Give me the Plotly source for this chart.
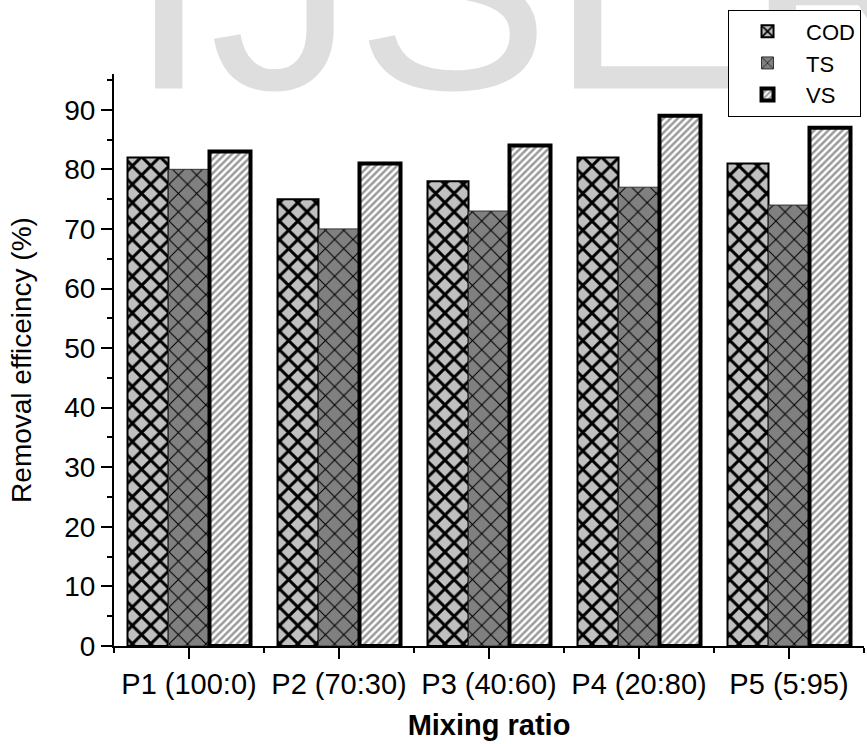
import plotly.graph_objects as go

categories = ["P1 (100:0)", "P2 (70:30)", "P3 (40:60)", "P4 (20:80)", "P5 (5:95)"]
cod = [82, 75, 78, 82, 81]
ts = [80, 70, 73, 77, 74]
vs = [83, 81, 84, 89, 87]
series_names = ["COD", "TS", "VS"]
y_tick_vals = [0, 10, 20, 30, 40, 50, 60, 70, 80, 90]
watermark = "IJSER"

xpos = list(range(len(categories)))
FONT = "Liberation Sans, Arial, sans-serif"

fig = go.Figure()

# background watermark, drawn in the plot layer (under the legend), text sits above its anchor
fig.add_trace(go.Scatter(
    x=[2.353], y=[81.3], mode="text", text=[watermark],
    textposition="top center", cliponaxis=False,
    textfont=dict(family=FONT, size=292, color="#dedede"),
    hoverinfo="skip", showlegend=False,
))

fig.add_trace(go.Bar(
    name=series_names[0], x=xpos, y=cod,
    marker=dict(color="#c0c0c0",
                line=dict(color="black", width=2),
                pattern=dict(shape="x", bgcolor="#c0c0c0", fgcolor="black",
                             size=13, solidity=0.4, fillmode="replace")),
))
fig.add_trace(go.Bar(
    name=series_names[1], x=xpos, y=ts,
    marker=dict(color="#808080",
                line=dict(color="#333333", width=1),
                pattern=dict(shape="x", bgcolor="#808080", fgcolor="black",
                             size=13, solidity=0.15, fillmode="replace")),
))
fig.add_trace(go.Bar(
    name=series_names[2], x=xpos, y=vs,
    marker=dict(color="white",
                line=dict(color="black", width=4),
                pattern=dict(shape="/", bgcolor="white", fgcolor="#9a9a9a",
                             size=5, solidity=0.5, fillmode="replace")),
))

fig.update_layout(
    width=867, height=744,
    margin=dict(l=114, r=3, t=74, b=98, autoexpand=False),
    paper_bgcolor="white", plot_bgcolor="white",
    barmode="group", bargap=0.18, bargroupgap=0,
    font=dict(family=FONT, size=26, color="black"),
    showlegend=True,
    legend=dict(x=0.8187, y=1.1127, xanchor="left", yanchor="top",
                bgcolor="white", bordercolor="black", borderwidth=1,
                font=dict(family=FONT, size=22, color="black"),
                itemwidth=67, tracegroupgap=0),
)
fig.update_xaxes(
    range=[-0.5, 4.5], tickmode="array", tickvals=xpos, ticktext=categories,
    automargin=False,
    showline=True, linecolor="black", linewidth=2, mirror=False,
    ticks="outside", ticklen=11, tickwidth=2, tickcolor="black",
    showgrid=False, zeroline=False,
    tickfont=dict(family=FONT, size=29),
    minor=dict(tick0=0.5, dtick=1, ticks="outside", ticklen=5, tickwidth=2, tickcolor="black", showgrid=False),
    title=dict(text="<b>Mixing ratio</b>", font=dict(family=FONT, size=29), standoff=16),
)
fig.update_yaxes(
    range=[0, 96], tickmode="array", tickvals=y_tick_vals,
    automargin=False,
    showline=True, linecolor="black", linewidth=2,
    ticks="outside", ticklen=11, tickwidth=2, tickcolor="black",
    showgrid=False, zeroline=False,
    tickfont=dict(family=FONT, size=28),
    minor=dict(tick0=5, dtick=10, ticks="outside", ticklen=5, tickwidth=2, tickcolor="black", showgrid=False),
    title=dict(text="Removal efficeincy (%)", font=dict(family=FONT, size=28), standoff=24),
)

fig.write_html(
    "out.html",
    config={"displayModeBar": False},
    post_script="document.body.style.margin='0';document.body.style.overflow='hidden';",
)
